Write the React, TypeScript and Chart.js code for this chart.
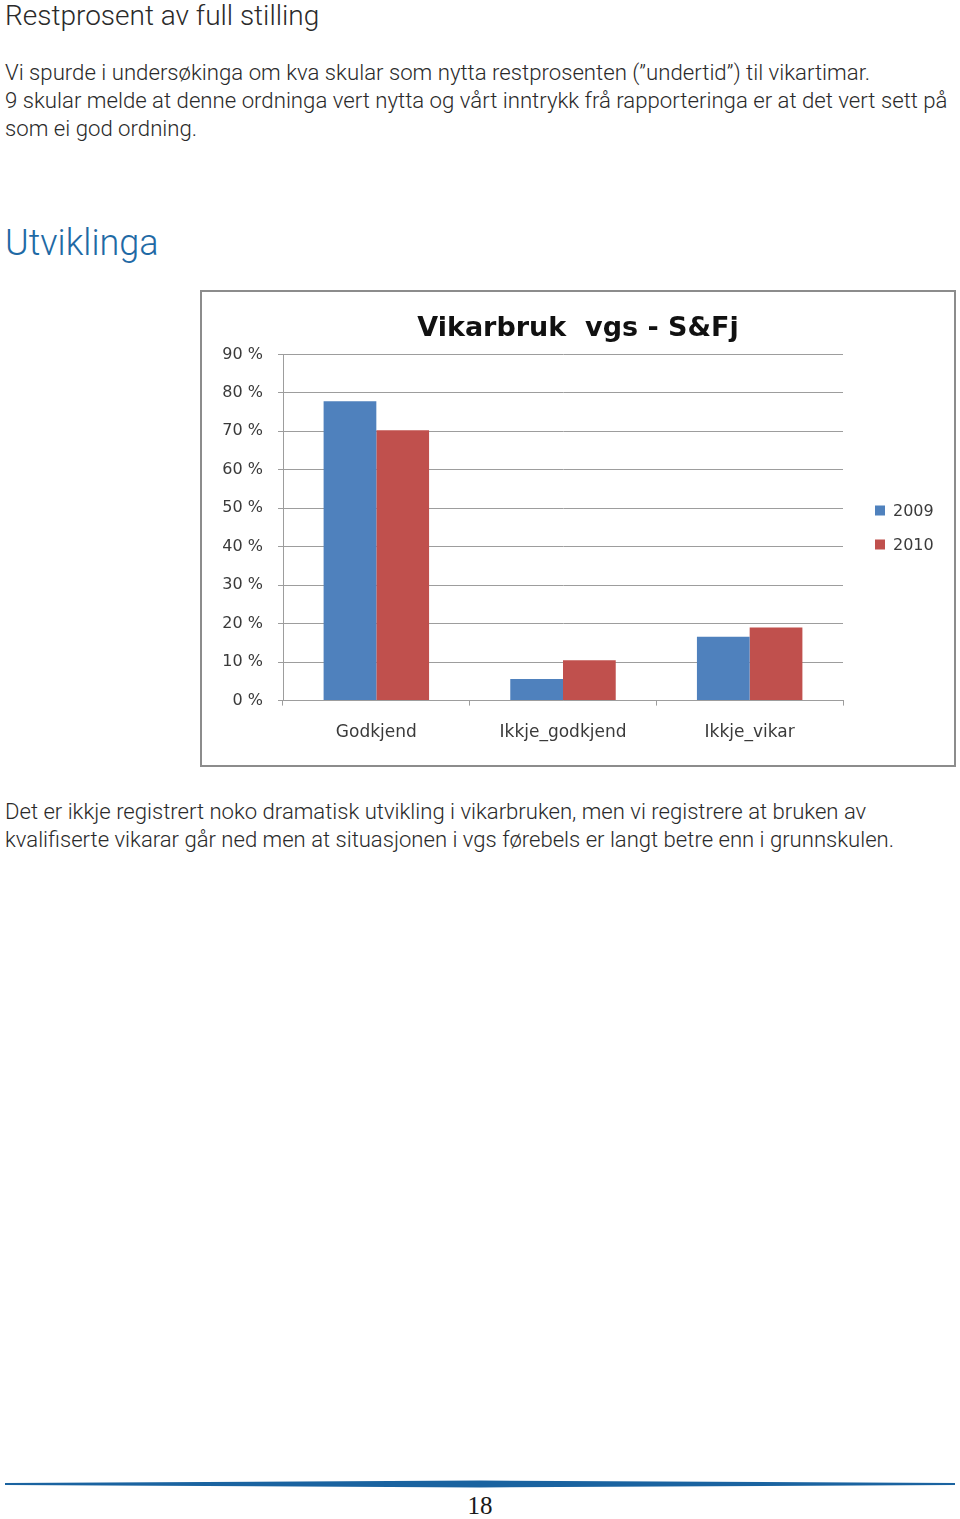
import { useEffect, useRef } from "react";
import { Chart, registerables } from "chart.js";

Chart.register(...registerables);

// ---- data ----
const categories = ["Godkjend", "Ikkje_godkjend", "Ikkje_vikar"];
const seriesNames = ["2009", "2010"];
const values2009 = [77.8, 5.6, 16.6];
const values2010 = [70.3, 10.5, 19.0];
const seriesColors = ["#4f81bd", "#c0504d"];
const yTickValues = [0, 10, 20, 30, 40, 50, 60, 70, 80, 90];
const chartTitle = "Vikarbruk  vgs - S&Fj";

const headingText = "Restprosent av full stilling";
const introLines = [
  "Vi spurde i undersøkinga om kva skular som nytta restprosenten (”undertid”) til vikartimar.",
  "9 skular melde at denne ordninga vert nytta og vårt inntrykk frå rapporteringa er at det vert sett på",
  "som ei god ordning.",
];
const sectionHeading = "Utviklinga";
const outroLines = [
  "Det er ikkje registrert noko dramatisk utvikling i vikarbruken, men vi registrere at bruken av",
  "kvalifiserte vikarar går ned men at situasjonen i vgs førebels er langt betre enn i grunnskulen.",
];
const pageNumber = "18";

const CHART_FONT = "'DejaVu Sans', Verdana, sans-serif";
const TEXT_FONT = "Roboto, 'Open Sans', sans-serif";

const sideLegend = {
  id: "sideLegend",
  afterDraw(chart: any) {
    const { ctx, chartArea } = chart;
    const ds = chart.data.datasets;
    const gap = 34;
    const midY = (chartArea.top + chartArea.bottom) / 2;
    const startY = midY - (gap * (ds.length - 1)) / 2;
    ctx.save();
    ctx.font = `16px ${CHART_FONT}`;
    ctx.textBaseline = "middle";
    ctx.textAlign = "left";
    ds.forEach((d: any, i: number) => {
      const y = startY + i * gap;
      const x = chartArea.right + 32;
      ctx.fillStyle = d.backgroundColor;
      ctx.fillRect(x, y - 5, 10, 10);
      ctx.fillStyle = "#3a3a3a";
      ctx.fillText(d.label, x + 18, y + 1);
    });
    ctx.restore();
  },
};

function BarChart() {
  const ref = useRef<HTMLCanvasElement | null>(null);
  useEffect(() => {
    if (!ref.current) return;
    const chart = new Chart(ref.current, {
      type: "bar",
      data: {
        labels: categories,
        datasets: [
          { label: seriesNames[0], data: values2009, backgroundColor: seriesColors[0], borderWidth: 0 },
          { label: seriesNames[1], data: values2010, backgroundColor: seriesColors[1], borderWidth: 0 },
        ],
      },
      options: {
        animation: false,
        responsive: false,
        maintainAspectRatio: false,
        layout: { padding: { left: 0, right: 0, top: 0, bottom: 5 } },
        datasets: { bar: { categoryPercentage: 0.565, barPercentage: 1.0 } },
        plugins: {
          legend: { display: false },
          tooltip: { enabled: false },
          title: {
            display: true,
            text: chartTitle,
            color: "#111111",
            font: { family: CHART_FONT, size: 27, weight: "bold" },
            padding: { top: 21, bottom: 9 },
          },
        },
        scales: {
          x: {
            grid: {
              display: true,
              drawOnChartArea: false,
              drawTicks: true,
              tickLength: 5,
              offset: true,
              color: "#9d9d9d",
            },
            border: { display: true, color: "#9d9d9d", width: 1 },
            ticks: {
              color: "#3a3a3a",
              padding: 17,
              font: { family: CHART_FONT, size: 17 },
              maxRotation: 0,
            },
          },
          y: {
            min: 0,
            max: 90,
            afterFit: (scale: any) => {
              scale.width = 81;
            },
            afterBuildTicks: (scale: any) => {
              scale.ticks = yTickValues.map((v) => ({ value: v }));
            },
            grid: { color: "#9d9d9d", tickLength: 5, drawTicks: true, lineWidth: 1 },
            border: { display: true, color: "#9d9d9d", width: 1 },
            ticks: {
              color: "#3a3a3a",
              padding: 15,
              stepSize: 10,
              font: { family: CHART_FONT, size: 16 },
              callback: (v: any) => `${v} %`,
            },
          },
          legendSpace: {
            type: "linear",
            position: "right",
            display: true,
            afterFit: (scale: any) => {
              scale.width = 111;
            },
            grid: { display: false, drawTicks: false },
            border: { display: false },
            ticks: { display: false },
          },
        },
      },
      plugins: [sideLegend],
    });
    return () => chart.destroy();
  }, []);
  return <canvas ref={ref} width={752} height={473} style={{ display: "block", width: 752, height: 473 }} />;
}

export default function App() {
  const line = (top: number, size: number, extra: any = {}) => ({
    position: "absolute" as const,
    left: 5,
    top,
    fontSize: size,
    lineHeight: `${size}px`,
    whiteSpace: "nowrap" as const,
    fontFamily: TEXT_FONT,
    fontWeight: 300,
    color: "#2a2a2a",
    ...extra,
  });
  return (
    <div
      style={{
        position: "absolute",
        left: 0,
        top: 0,
        width: 960,
        height: 1519,
        background: "#ffffff",
        overflow: "hidden",
      }}
    >
      <div style={line(26 - 0.85 * 28, 28)}>{headingText}</div>
      {introLines.map((t, i) => (
        <div key={i} style={line(79.5 + i * 28 - 0.85 * 22.2, 22.2)}>
          {t}
        </div>
      ))}
      <div style={line(256 - 0.85 * 36, 36, { color: "#1f6aa5" })}>{sectionHeading}</div>
      <div
        style={{
          position: "absolute",
          left: 200,
          top: 290,
          width: 752,
          height: 473,
          border: "2px solid #8c8c8c",
        }}
      >
        <BarChart />
      </div>
      {outroLines.map((t, i) => (
        <div key={i} style={line(818.5 + i * 28 - 0.85 * 22.1, 22.1)}>
          {t}
        </div>
      ))}
      <svg width={960} height={20} style={{ position: "absolute", left: 0, top: 1474 }}>
        <polygon points="5,9 480,6.5 955,9 955,11 480,13.5 5,11" fill="#1a63a0" />
      </svg>
      <div
        style={{
          position: "absolute",
          left: 0,
          width: 960,
          textAlign: "center",
          top: 1515 - 0.89 * 25,
          fontSize: 25,
          lineHeight: "25px",
          fontFamily: "'Liberation Serif', 'Times New Roman', serif",
          color: "#1a1a1a",
        }}
      >
        {pageNumber}
      </div>
    </div>
  );
}
